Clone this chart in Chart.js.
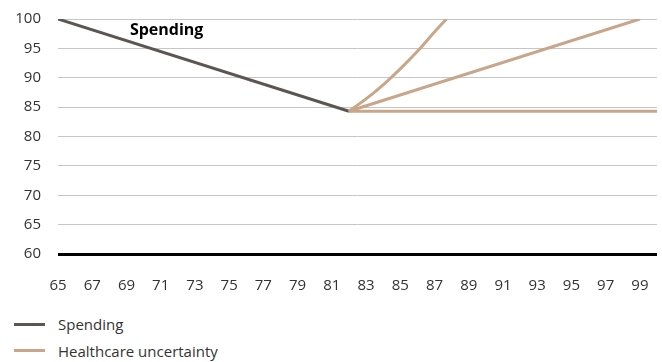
<!DOCTYPE html>
<html>
<head>
<meta charset="utf-8">
<script src="https://cdn.jsdelivr.net/npm/chart.js@4/dist/chart.umd.min.js"></script>
<style>
  body { margin: 0; background: #fff; font-family: 'Open Sans', sans-serif; }
  #wrap { position: relative; width: 662px; height: 300px; }
  #legend { position: absolute; left: 14px; top: 311px; font-size: 15px; color: #333; }
  .item { display: flex; align-items: center; height: 26.5px; }
  .swatch { width: 31px; height: 3px; margin-right: 13px; }
</style>
</head>
<body>
<div id="wrap"><canvas id="chart"></canvas></div>
<div id="legend">
  <div class="item"><span class="swatch" style="background:#5d5552"></span>Spending</div>
  <div class="item"><span class="swatch" style="background:#c8a68a"></span>Healthcare uncertainty</div>
</div>
<script>
const spendingAges = [65, 82];
const spendingValues = [100, 84.3];

const flatAges = [82, 100];
const flatValues = [84.3, 84.3];

const linearAges = [82, 99];
const linearValues = [84.3, 100];

const curveAges = [82, 83, 84, 85, 86, 87, 87.7];
const curveValues = [84.3, 86.4, 88.8, 91.5, 94.5, 97.8, 100];

const yTicks = [60, 65, 70, 75, 80, 85, 90, 95, 100];

const SPENDING = '#5d5552';
const HEALTH = '#c8a68a';

function points(xs, ys) {
  return xs.map((x, i) => ({ x: x, y: ys[i] }));
}

// label "Spending" on the chart, placed in data coordinates
const labelPlugin = {
  id: 'spendingLabel',
  afterDatasetsDraw(chart) {
    const { ctx, scales } = chart;
    ctx.save();
    ctx.font = "bold 16px 'Open Sans'";
    ctx.fillStyle = '#000';
    ctx.textAlign = 'left';
    ctx.textBaseline = 'middle';
    ctx.fillText('Spending', scales.x.getPixelForValue(69.2), scales.y.getPixelForValue(98.1));
    ctx.restore();
  }
};

const line = (data, color, extra) => Object.assign({
  data: data,
  borderColor: color,
  borderWidth: 3,
  pointRadius: 0,
  fill: false
}, extra || {});

new Chart(document.getElementById('chart'), {
  type: 'line',
  data: {
    datasets: [
      line(points(flatAges, flatValues), HEALTH),
      line(points(linearAges, linearValues), HEALTH),
      line(points(curveAges, curveValues), HEALTH, { cubicInterpolationMode: 'monotone' }),
      line(points(spendingAges, spendingValues), SPENDING)
    ]
  },
  options: {
    responsive: true,
    maintainAspectRatio: false,
    animation: false,
    layout: { padding: { top: 19, right: 5, left: 0, bottom: 0 } },
    plugins: { legend: { display: false }, tooltip: { enabled: false } },
    scales: {
      x: {
        type: 'linear',
        min: 65,
        max: 100,
        grid: { display: false },
        border: { display: false },
        afterBuildTicks(scale) {
          scale.ticks = [];
          for (let v = 65; v <= 99; v += 2) scale.ticks.push({ value: v });
        },
        afterFit(scale) {
          scale.height = 46;
          scale.paddingLeft = 0;
          scale.paddingRight = 0;
        },
        ticks: { padding: 15, color: '#333', font: { family: 'Open Sans', size: 15 }, maxRotation: 0, autoSkip: false }
      },
      y: {
        min: 60,
        max: 100,
        afterBuildTicks(scale) {
          scale.ticks = yTicks.map(v => ({ value: v }));
        },
        afterFit(scale) {
          scale.width = 58;
          scale.paddingTop = 0;
          scale.paddingBottom = 0;
        },
        border: { display: false },
        grid: {
          drawTicks: false,
          color: c => (c.tick && c.tick.value === 60 ? '#000' : '#c6c6c6'),
          lineWidth: c => (c.tick && c.tick.value === 60 ? 3 : 1)
        },
        ticks: { padding: 17, color: '#333', font: { family: 'Open Sans', size: 15 } }
      }
    }
  },
  plugins: [labelPlugin]
});
</script>
</body>
</html>
